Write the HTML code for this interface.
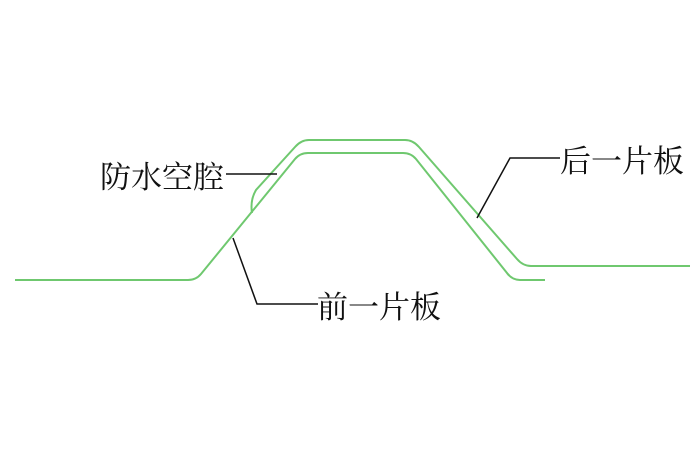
<!DOCTYPE html>
<html><head><meta charset="utf-8"><style>
html,body{margin:0;padding:0;background:#fff;}
svg{display:block;}
text{font-family:"Liberation Serif","Noto Serif CJK SC",serif;font-size:31px;fill:#111;}
</style></head><body>
<svg width="700" height="466" viewBox="0 0 700 466">
<g fill="none" stroke="#6fc86f" stroke-width="2">
<path d="M15,280 L188,280 Q196,280 201,274 L295,159 Q300,153 308,153 L403,153 Q411,153 416,159 L507,273 Q512,280 520,280 L545,280"/>
<path d="M252,213 Q250,200 256,190 L295,147 Q301,140 309,140 L405,140 Q413,140 419,147 L517,259 Q523,266 531,266 L690,266"/>
</g>
<g fill="none" stroke="#111" stroke-width="1.5">
<path d="M226,174 L277,174"/>
<path d="M477,218 L510,158 L560,158"/>
<path d="M233,238 L257,304 L318,304"/>
</g>
<text x="100" y="188">防水空腔</text>
<text x="560" y="172">后一片板</text>
<text x="317" y="318">前一片板</text>
</svg>
</body></html>
